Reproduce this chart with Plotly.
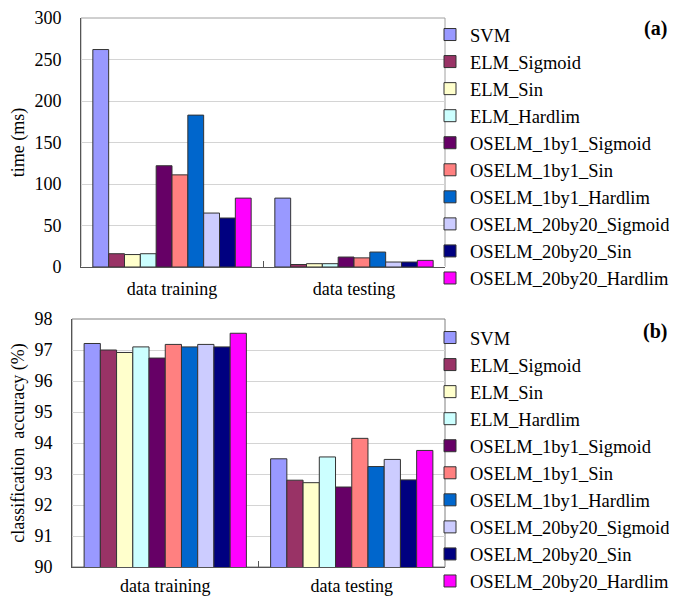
import plotly.graph_objects as go

categories = ["data training", "data testing"]
series_names = ["SVM", "ELM_Sigmoid", "ELM_Sin", "ELM_Hardlim",
                "OSELM_1by1_Sigmoid", "OSELM_1by1_Sin", "OSELM_1by1_Hardlim",
                "OSELM_20by20_Sigmoid", "OSELM_20by20_Sin", "OSELM_20by20_Hardlim"]
colors = ["#9999FF", "#993366", "#FFFFCC", "#CCFFFF", "#660066",
          "#FF8080", "#0066CC", "#CCCCFF", "#000080", "#FF00FF"]

# (a) time in ms: [training, testing]
time_ms = [
    [262, 83],
    [16, 3],
    [15, 4],
    [16, 4],
    [122, 12],
    [111, 11],
    [183, 18],
    [65, 6],
    [59, 6],
    [83, 8],
]
# (b) classification accuracy (%): [training, testing]
accuracy = [
    [97.21, 93.49],
    [97.00, 92.80],
    [96.92, 92.72],
    [97.10, 93.55],
    [96.74, 92.58],
    [97.18, 94.15],
    [97.10, 93.24],
    [97.18, 93.47],
    [97.10, 92.81],
    [97.54, 93.76],
]
time_ticks = [0, 50, 100, 150, 200, 250, 300]
acc_ticks = [90, 91, 92, 93, 94, 95, 96, 97, 98]

# the page has an 8px body margin, so the figure is sized to fit the window
OFF = 8
W, H = 677 - OFF, 598 - OFF
FONT = "Liberation Serif, Times New Roman, serif"

fig = go.Figure()
for i, name in enumerate(series_names):
    fig.add_trace(go.Bar(x=categories, y=time_ms[i], name=name,
                         marker=dict(color=colors[i], line=dict(color="#333333", width=1)),
                         xaxis="x", yaxis="y", legend="legend"))
for i, name in enumerate(series_names):
    fig.add_trace(go.Bar(x=categories, y=accuracy[i], name=name,
                         marker=dict(color=colors[i], line=dict(color="#333333", width=1)),
                         xaxis="x2", yaxis="y2", legend="legend2"))

def px_x(p):
    return (p - OFF) / W

def px_y(p):
    return 1 - (p - OFF) / H

axis_common = dict(showline=True, linecolor="#555555", linewidth=1, mirror=False,
                   automargin=False,
                   tickfont=dict(family=FONT, size=18, color="black"))

legend_common = dict(font=dict(family=FONT, size=18.5, color="black"),
                     bgcolor="rgba(0,0,0,0)", xanchor="left", yanchor="top",
                     tracegroupgap=0)

# light plot-area frames (domain coordinates)
frames = [
    dict(type="rect", xref="x domain", yref="y domain", x0=0, x1=1, y0=0, y1=1,
         line=dict(color="#A0A0A0", width=1), layer="below"),
    dict(type="rect", xref="x2 domain", yref="y2 domain", x0=0, x1=1, y0=0, y1=1,
         line=dict(color="#808080", width=1), layer="below"),
]

fig.update_layout(
    width=W, height=H,
    margin=dict(l=0, r=0, t=0, b=0, autoexpand=False),
    paper_bgcolor="white", plot_bgcolor="white",
    barmode="group", bargap=0.13, bargroupgap=0,
    font=dict(family=FONT, color="black"),
    xaxis=dict(domain=[px_x(81), px_x(445)], anchor="y",
               ticks="inside", tickson="boundaries", ticklen=6, tickcolor="#555555",
               ticklabelstandoff=5, **axis_common),
    yaxis=dict(domain=[px_y(267), px_y(18)], anchor="x", range=[0, 300],
               tickvals=time_ticks, showgrid=True, gridcolor="#D4D4D4",
               ticklabelstandoff=15,
               title=dict(text="time (ms)", font=dict(family=FONT, size=18), standoff=12),
               **axis_common),
    xaxis2=dict(domain=[px_x(72), px_x(445)], anchor="y2",
                ticks="inside", tickson="boundaries", ticklen=6, tickcolor="#555555",
                ticklabelstandoff=2, **axis_common),
    yaxis2=dict(domain=[px_y(567), px_y(319)], anchor="x2", range=[90, 98],
                tickvals=acc_ticks, showgrid=True, gridcolor="#D4D4D4",
                ticklabelstandoff=15,
                title=dict(text="classification  accuracy (%)", font=dict(family=FONT, size=18), standoff=16),
                **axis_common),
    shapes=frames,
    legend=dict(x=px_x(430), y=px_y(16), **legend_common),
    legend2=dict(x=px_x(430), y=px_y(319), **legend_common),
    annotations=[
        dict(text="<b>(a)</b>", x=px_x(669), y=px_y(28), xref="paper", yref="paper",
             xanchor="right", yanchor="middle", showarrow=False,
             font=dict(family=FONT, size=20, color="black")),
        dict(text="<b>(b)</b>", x=px_x(669), y=px_y(331), xref="paper", yref="paper",
             xanchor="right", yanchor="middle", showarrow=False,
             font=dict(family=FONT, size=20, color="black")),
    ],
)

fig.write_html("out.html")
